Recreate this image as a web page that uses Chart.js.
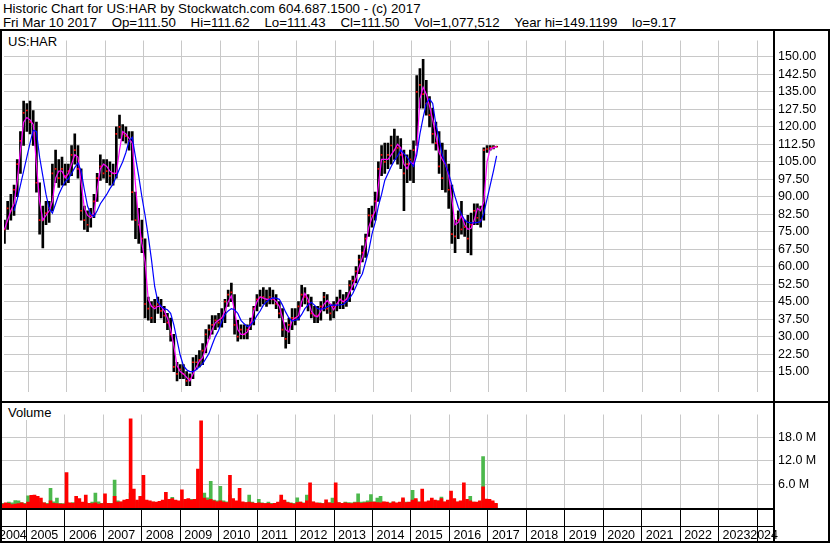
<!DOCTYPE html>
<html>
<head>
<meta charset="utf-8">
<script src="https://cdn.jsdelivr.net/npm/chart.js@4.4.1/dist/chart.umd.min.js"></script>
<style>
body { margin: 0; background: #fff; }
#wrap { position: relative; width: 830px; height: 543px; overflow: hidden; background: #fff;
        font-family: Arial, "Liberation Sans", sans-serif; color: #000; }
.hdr { position: absolute; left: 3px; font-size: 13.3px; line-height: 14px; white-space: pre; }
.tag { position: absolute; font-size: 13px; line-height: 15px; background: #fff; padding: 0 3px; z-index: 2; }
.ln { position: absolute; background: #000; z-index: 3; }
#priceBox { position: absolute; left: 0; top: 29px; width: 830px; height: 374px; }
#volBox { position: absolute; left: 0; top: 403px; width: 830px; height: 140px; }
</style>
</head>
<body>
<div id="wrap">
  <div class="hdr" style="top:2px">Historic Chart for US:HAR by Stockwatch.com 604.687.1500 - (c) 2017</div>
  <div class="hdr" style="top:16px">Fri Mar 10 2017    Op=111.50    Hi=111.62    Lo=111.43    Cl=111.50    Vol=1,077,512    Year hi=149.1199    lo=9.17</div>

  <div id="priceBox"><canvas id="price"></canvas></div>
  <div id="volBox"><canvas id="vol"></canvas></div>

  <div class="tag" style="left:5px;top:34px">US:HAR</div>
  <div class="tag" style="left:5px;top:405px">Volume</div>

  <div class="ln" style="left:0;top:29px;width:830px;height:2px"></div>
  <div class="ln" style="left:0;top:29px;width:2px;height:514px"></div>
  <div class="ln" style="left:828px;top:29px;width:2px;height:514px"></div>
  <div class="ln" style="left:773px;top:29px;width:2px;height:514px"></div>
  <div class="ln" style="left:0;top:401px;width:830px;height:2px"></div>
  <div class="ln" style="left:0;top:508px;width:775px;height:2px"></div>
  <div class="ln" style="left:0;top:526px;width:775px;height:1px"></div>
  <div class="ln" style="left:0;top:541px;width:830px;height:2px"></div>
</div>

<script>
// monthly bars, May 2004 .. Mar 2017
var firstMonth = [2004, 5];

var high = [
  80, 88, 91, 95, 106, 118, 131, 130,
  131, 127, 122, 96, 86, 88, 88, 104, 110, 106, 107, 104,
  104, 112, 117, 112, 102, 86, 84, 85, 91, 100, 108, 106,
  106, 105, 104, 120, 125, 121, 120, 118, 118, 92, 85, 80,
  72, 47, 45, 46, 47, 46, 43, 40, 38, 31, 19, 18,
  18, 15, 14, 21, 22, 24, 27, 33, 35, 39, 39, 40,
  42, 46, 50, 53, 48, 37, 35, 35, 35, 38, 43, 48,
  50, 51, 50, 51, 50, 48, 45, 42, 36, 38, 42, 42,
  45, 52, 51, 48, 47, 43, 43, 45, 49, 48, 44, 45,
  47, 50, 48, 49, 54, 56, 60, 65, 69, 74, 85, 86,
  92, 105, 112, 113, 113, 116, 119, 116, 115, 110, 108, 110,
  114, 142, 145, 149, 140, 133, 128, 122, 118, 113, 110, 104,
  95, 80, 84, 88, 80, 82, 83, 87, 87, 86, 111, 112,
  112, 112, 111.6
];
var low = [
  70, 76, 80, 82, 90, 100, 112, 118,
  117, 112, 92, 74, 68, 78, 79, 84, 96, 94, 95, 95,
  96, 99, 104, 98, 80, 76, 75, 77, 81, 88, 97, 98,
  96, 95, 95, 98, 115, 114, 113, 110, 80, 72, 70, 66,
  38, 37, 36, 36, 40, 38, 36, 33, 28, 15, 11, 12,
  12, 9, 9, 12, 16, 17, 18, 23, 29, 31, 33, 34,
  34, 36, 43, 45, 31, 28, 29, 29, 29, 33, 35, 41,
  43, 44, 43, 44, 44, 42, 38, 30, 25, 27, 33, 35,
  37, 43, 44, 41, 38, 36, 36, 37, 41, 40, 37, 38,
  41, 42, 42, 43, 45, 50, 53, 57, 62, 64, 73, 77,
  80, 88, 99, 100, 102, 104, 106, 104, 102, 84, 96, 97,
  96, 112, 128, 128, 125, 120, 113, 110, 100, 93, 92, 85,
  70, 66, 72, 74, 73, 66, 65, 78, 78, 77, 80, 109,
  110, 110.5, 111.4
];
var close = [
  76, 85, 84, 93, 104, 114, 126, 127,
  122, 118, 96, 80, 80, 83, 85, 100, 102, 98, 102, 99,
  101, 108, 110, 102, 84, 80, 78, 82, 88, 98, 103, 100,
  101, 99, 100, 117, 120, 117, 116, 114, 92, 80, 78, 72,
  44, 42, 38, 43, 44, 41, 39, 36, 31, 17, 14, 16,
  14, 11, 12, 19, 19, 20, 24, 31, 33, 35, 37, 36,
  38, 45, 48, 49, 35, 30, 33, 31, 33, 36, 42, 46,
  47, 47, 46, 47, 46, 44, 40, 33, 29, 35, 38, 38,
  43, 48, 47, 45, 40, 39, 39, 43, 47, 42, 40, 43,
  44, 46, 45, 46, 52, 54, 58, 63, 66, 72, 82, 82,
  88, 102, 108, 105, 108, 112, 110, 111, 108, 100, 104, 106,
  110, 135, 138, 134, 130, 125, 117, 113, 103, 98, 104, 93,
  74, 73, 80, 76, 77, 72, 78, 84, 81, 80, 110, 110.5,
  111, 111.3, 111.5
];
var maFast = [
  76, 80, 84, 87, 97, 110, 122, 124,
  123, 121, 104, 88, 80, 82, 84, 88, 98, 101, 101, 98,
  100, 104, 108, 107, 96, 85, 82, 81, 83, 93, 102, 104,
  103, 101, 100, 100, 110, 118, 117, 115, 113, 95, 80, 70,
  62, 46, 43, 42, 43, 43, 41, 38, 33, 26, 17.5, 15,
  14, 12.5, 11, 14, 17, 19.5, 21, 25, 29, 33, 36, 37,
  38, 41, 45, 47.5, 41, 33, 31, 31, 32, 35, 41, 45,
  47, 46.5, 46, 46, 46.5, 45, 43, 38, 33, 32, 37, 38,
  39, 45, 48.5, 46, 41, 39, 38.5, 41, 44, 45.5, 44, 41.5,
  44, 46, 45, 46, 49, 52, 55, 60, 64, 69, 77, 81,
  84, 95, 106, 106, 106, 108, 110, 112.5, 111, 104, 102, 105,
  104, 110, 132, 137, 134, 129, 123, 116, 109, 106, 104, 99,
  89, 78, 79, 82, 78, 76, 76.5, 80, 85, 84, 88, 105,
  110.5, 111, 111.5
];
var maSlow = [
  null, null, null, 84, 89, 95, 101, 107,
  113, 118.5, 118, 107, 99, 91, 85, 83, 87, 91, 94, 96.5,
  97.7, 100, 102.5, 104.5, 101, 93, 86, 82.5, 81.5, 84, 87, 89,
  91, 93.5, 95.5, 98.7, 102, 105, 109, 114, 115.5, 107, 99, 90,
  82, 73, 63, 51.5, 45, 43, 42, 41.5, 40, 35, 28.5, 22,
  17.5, 15.8, 15, 15, 15.8, 17, 18.3, 20.5, 22.8, 26.5, 30, 32.6,
  36.5, 39.5, 41, 42, 41.5, 40, 37, 35.5, 34.3, 35, 36.5, 39,
  41, 43.5, 45, 46, 46.6, 46.5, 46, 43.5, 40.5, 38, 36.7, 37,
  37.6, 39.5, 42, 43.5, 44.7, 43.5, 42, 41.8, 42, 42.8, 43.4, 43.5,
  43.5, 43.6, 43.8, 45, 46.5, 48.5, 51.5, 54.5, 57, 62, 67, 74,
  79, 86, 91, 97, 100, 103, 105.5, 107.5, 110, 108.5, 107, 105,
  103, 108, 117, 124, 130, 132, 130, 121, 115, 108, 104, 100,
  95, 90, 85.5, 82.5, 80, 79, 78.8, 78.8, 79, 79.3, 83, 89,
  95, 101, 107.5
];
// volume in millions of shares
var volUp = [
  1.2, 1.0, 1.5, 1.3, 1.9, 1.8, 1.4, 1.2,
  3.1, 1.4, 1.5, 1.2, 1.6, 1.3, 1.2, 5.0, 1.6, 2.5, 1.2, 1.1,
  1.5, 1.2, 1.4, 1.3, 1.1, 1.2, 1.4, 1.1, 1.5, 3.8, 1.6, 1.2,
  1.3, 1.1, 1.2, 7.1, 1.8, 1.5, 1.6, 2.0, 3.8, 1.7, 1.5, 1.4,
  2.0, 1.6, 1.4, 1.5, 1.3, 1.4, 1.6, 1.8, 2.2, 2.7, 1.8, 1.5,
  1.6, 1.8, 2.0, 2.2, 2.0, 2.4, 6.2, 3.8, 2.6, 6.8, 2.0, 1.8,
  5.5, 1.8, 1.6, 3.3, 1.8, 1.5, 1.4, 1.3, 1.4, 3.3, 1.5, 1.2,
  2.2, 1.3, 1.2, 1.5, 1.2, 1.1, 1.4, 2.0, 1.8, 1.5, 1.3, 1.2,
  2.6, 1.5, 1.3, 3.3, 1.4, 1.5, 1.2, 1.3, 1.2, 1.4, 1.3, 2.5,
  1.8, 1.3, 1.2, 1.5, 1.4, 1.3, 1.5, 3.6, 1.5, 1.6, 1.8, 3.4,
  1.6, 2.5, 3.0, 1.5, 1.4, 1.3, 1.5, 1.2, 1.4, 2.2, 1.5, 1.4,
  4.5, 2.0, 1.6, 1.5, 1.4, 1.5, 1.4, 1.6, 1.8, 2.8, 1.5, 1.4,
  2.0, 2.2, 1.5, 1.6, 1.8, 1.6, 3.0, 1.5, 1.4, 1.6, 13.1, 2.0,
  1.2, 1.4, 1.0
];
var volDown = [
  1.0, 1.3, 1.2, 0.9, 1.0, 1.1, 1.3, 1.0,
  1.5, 3.2, 3.3, 3.0, 2.5, 1.3, 1.0, 1.8, 1.2, 1.1, 1.0, 1.0,
  9.0, 1.3, 1.2, 3.0, 2.4, 1.5, 3.3, 1.2, 1.1, 1.3, 1.0, 1.1,
  3.6, 1.2, 1.1, 3.0, 1.5, 1.6, 2.0, 2.2, 22.7, 4.8, 2.0, 3.0,
  8.3, 2.0, 1.8, 1.6, 1.5, 1.7, 2.0, 4.0, 2.2, 2.4, 2.0, 1.8,
  4.6, 2.2, 2.4, 2.0, 2.2, 9.9, 22.2, 2.5, 2.0, 2.2, 1.8, 1.6,
  1.8, 1.5, 1.4, 8.3, 2.4, 1.8, 5.0, 1.6, 1.4, 1.5, 1.3, 1.2,
  1.3, 1.2, 1.1, 1.2, 1.0, 1.2, 1.5, 3.3, 2.0, 1.4, 1.2, 1.0,
  1.4, 1.5, 1.2, 1.8, 6.4, 1.6, 1.3, 1.2, 1.1, 2.1, 1.3, 1.2,
  6.4, 1.4, 1.2, 1.3, 1.2, 1.1, 1.3, 1.4, 1.2, 1.3, 1.4, 1.5,
  1.5, 1.4, 1.3, 1.6, 1.5, 1.2, 1.6, 1.3, 1.5, 2.6, 1.4, 1.5,
  2.0, 2.4, 1.5, 4.8, 1.6, 1.8, 2.5, 2.0, 1.8, 2.4, 1.6, 2.0,
  4.3, 2.4, 1.6, 1.8, 6.4, 2.2, 1.8, 1.5, 1.5, 1.8, 5.4, 2.3,
  2.2, 1.8, 1.2
];

var years = [2004, 2005, 2006, 2007, 2008, 2009, 2010, 2011, 2012, 2013, 2014,
             2015, 2016, 2017, 2018, 2019, 2020, 2021, 2022, 2023, 2024];
var priceTicks = [15, 22.5, 30, 37.5, 45, 52.5, 60, 67.5, 75, 82.5, 90, 97.5,
                  105, 112.5, 120, 127.5, 135, 142.5, 150];
var volTicks = [6, 12, 18];

// time axis range (decimal years) and value ranges
var xMin = 2004.363, xMax = 2024.441;
var pMin = 6.45, pMax = 157.04;
var vMax = 23.8;

// mid-month position of each bar
var t = high.map(function (_, i) {
  var m = firstMonth[1] - 1 + i;
  return firstMonth[0] + Math.floor(m / 12) + ((m % 12) + 0.5) / 12;
});
function pts(arr) { return arr.map(function (v, i) { return { x: t[i], y: v }; }); }

var FONT = 'Arial, "Liberation Sans", sans-serif';
var GRID = '#c8c8c8';

function yearTicks(s) { s.ticks = years.map(function (v) { return { value: v }; }); }

new Chart(document.getElementById('price'), {
  type: 'bar',
  data: {
    datasets: [
      { type: 'line', data: pts(maSlow), borderColor: '#0000ff', borderWidth: 1.2,
        pointRadius: 0, order: 1 },
      { type: 'line', data: pts(maFast), borderColor: '#ff00ff', borderWidth: 1.2,
        pointRadius: 0, order: 2 },
      { type: 'line', data: pts(close), showLine: false, pointStyle: 'rect',
        pointRadius: 1.2, pointBackgroundColor: '#ff0000', pointBorderWidth: 0, order: 3 },
      { data: high.map(function (h, i) { return { x: t[i], y: [low[i], h] }; }),
        backgroundColor: '#000', barThickness: 2, order: 4 }
    ]
  },
  options: {
    animation: false, responsive: true, maintainAspectRatio: false,
    layout: { padding: { left: 2, top: 2, bottom: 2, right: 0 } },
    plugins: { legend: { display: false }, tooltip: { enabled: false } },
    scales: {
      x: { type: 'linear', min: xMin, max: xMax, offset: false,
           afterBuildTicks: yearTicks,
           afterFit: function (s) { s.height = 0; },
           grid: { color: GRID, drawTicks: false, offset: false },
           border: { display: false }, ticks: { display: false } },
      y: { position: 'right', min: pMin, max: pMax,
           afterBuildTicks: function (s) { s.ticks = priceTicks.map(function (v) { return { value: v }; }); },
           afterFit: function (s) { s.width = 56; },
           grid: { color: GRID, drawTicks: false },
           border: { display: false },
           ticks: { padding: 4, color: '#000', font: { family: FONT, size: 12.5 },
                    callback: function (v) { return v.toFixed(2); } } }
    }
  }
});

var yearLabels = {
  id: 'yearLabels',
  afterDraw: function (chart) {
    var ctx = chart.ctx, x = chart.scales.x;
    ctx.save();
    ctx.font = '12.5px ' + FONT;
    ctx.fillStyle = '#000';
    ctx.textBaseline = 'alphabetic';
    years.forEach(function (y) {
      var s = String(y), w = ctx.measureText(s).width;
      var px = Math.min(Math.max(x.getPixelForValue(y) + 4, -1), 778 - w);
      ctx.fillText(s, px, 136);
    });
    ctx.restore();
  }
};

new Chart(document.getElementById('vol'), {
  type: 'bar',
  data: {
    datasets: [
      { data: pts(volDown), backgroundColor: '#ff0000', barThickness: 3, grouped: false, order: 1 },
      { data: pts(volUp), backgroundColor: '#4cb84c', barThickness: 3, grouped: false, order: 2 }
    ]
  },
  options: {
    animation: false, responsive: true, maintainAspectRatio: false,
    layout: { padding: { left: 2, top: 0, bottom: 0, right: 0 } },
    plugins: { legend: { display: false }, tooltip: { enabled: false } },
    scales: {
      x: { type: 'linear', min: xMin, max: xMax, offset: false,
           afterBuildTicks: yearTicks,
           afterFit: function (s) { s.height = 35; },
           grid: { color: GRID, drawTicks: true, tickLength: 35, tickColor: '#000', offset: false },
           border: { display: false }, ticks: { display: false } },
      y: { position: 'right', min: 0, max: vMax,
           afterBuildTicks: function (s) { s.ticks = volTicks.map(function (v) { return { value: v }; }); },
           afterFit: function (s) { s.width = 56; },
           grid: { color: GRID, drawTicks: false },
           border: { display: false },
           ticks: { padding: 4, color: '#000', font: { family: FONT, size: 12.5 },
                    callback: function (v) { return v.toFixed(1) + ' M'; } } }
    }
  },
  plugins: [yearLabels]
});
</script>
</body>
</html>
